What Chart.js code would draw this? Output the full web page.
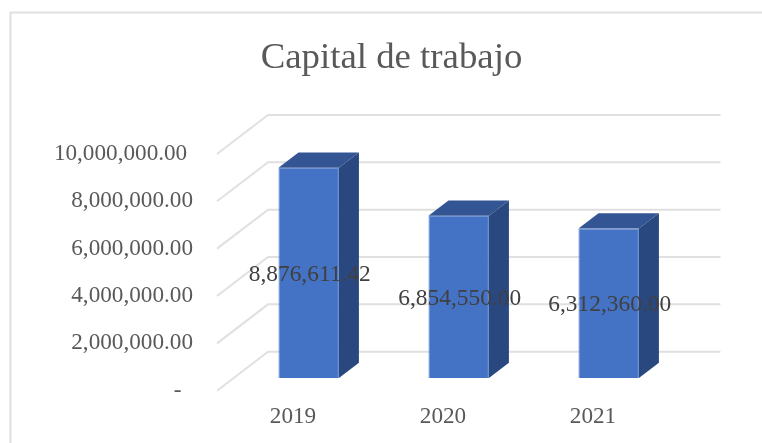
<!DOCTYPE html>
<html>
<head>
<meta charset="utf-8">
<style>
html,body{margin:0;padding:0;background:#fff;}
#wrap{position:relative;width:762px;height:443px;}
canvas{display:block;}
</style>
<script src="https://cdn.jsdelivr.net/npm/chart.js@4"></script>
</head>
<body>
<div id="wrap"><canvas id="c" width="762" height="443"></canvas></div>
<script>
const categories = ["2019", "2020", "2021"];
const capitalValues = [8876611.42, 6854550.00, 6312360.00];
const chartTitle = "Capital de trabajo";

const FONT = "'Liberation Serif'";
const fmt = v => v.toLocaleString("en-US", {minimumFractionDigits: 2, maximumFractionDigits: 2});
const tickText = v => v === 0 ? "-\u00A0\u00A0" : (v >= 10000000 ? fmt(v) + "\u00A0" : fmt(v));

const wall = {dx: 51, dy: -39, rightEnd: 720.5};
const barShift = {dx: 15.7, dy: -12.7};
const depth = {dx: 20, dy: -15.3};

const frame3d = {
  id: "frame3d",
  beforeDraw(chart) {
    const c = chart.ctx;
    c.save();
    c.strokeStyle = "#e0e0e0";
    c.lineWidth = 2;
    c.beginPath();
    c.moveTo(10.5, 443);
    c.lineTo(10.5, 12.5);
    c.lineTo(762, 12.5);
    c.stroke();
    c.restore();
  },
  beforeDatasetsDraw(chart) {
    const c = chart.ctx, y = chart.scales.y, left = chart.chartArea.left - 1;
    c.save();
    c.strokeStyle = "#e0e0e0";
    c.lineWidth = 2;
    y.ticks.forEach(t => {
      const py = y.getPixelForValue(t.value);
      c.beginPath();
      c.moveTo(left, py);
      c.lineTo(left + wall.dx, py + wall.dy);
      c.lineTo(wall.rightEnd, py + wall.dy);
      c.stroke();
    });
    c.restore();
    c.save();
    c.translate(barShift.dx, barShift.dy);
    chart.getDatasetMeta(0).data.forEach(b => {
      const p = b.getProps(["x", "y", "base", "width"], true);
      const l = p.x - p.width / 2, r = p.x + p.width / 2;
      c.fillStyle = "#335593";
      c.beginPath();
      c.moveTo(l, p.y);
      c.lineTo(l + depth.dx, p.y + depth.dy);
      c.lineTo(r + depth.dx, p.y + depth.dy);
      c.lineTo(r, p.y);
      c.closePath();
      c.fill();
      c.fillStyle = "#2a4880";
      c.beginPath();
      c.moveTo(r, p.y);
      c.lineTo(r + depth.dx, p.y + depth.dy);
      c.lineTo(r + depth.dx, p.base + depth.dy);
      c.lineTo(r, p.base);
      c.closePath();
      c.fill();
    });
  },
  afterDatasetsDraw(chart) {
    const c = chart.ctx;
    c.restore();
    c.save();
    c.font = "23.4px " + FONT;
    c.fillStyle = "#404040";
    c.textAlign = "center";
    c.textBaseline = "middle";
    chart.getDatasetMeta(0).data.forEach((b, i) => {
      const p = b.getProps(["x", "y", "base"], true);
      c.fillText(fmt(capitalValues[i]), p.x + barShift.dx + 1, (p.y + p.base) / 2 + barShift.dy + 2);
    });
    c.restore();
  }
};

new Chart(document.getElementById("c"), {
  type: "bar",
  plugins: [frame3d],
  data: {
    labels: categories,
    datasets: [{
      data: capitalValues,
      backgroundColor: "#4472c4",
      borderColor: "#5580cb",
      borderWidth: 1,
      categoryPercentage: 1,
      barPercentage: 0.403,
      clip: false
    }]
  },
  options: {
    responsive: false,
    animation: false,
    layout: {padding: {left: 21, right: 0, top: 0, bottom: 0}},
    plugins: {
      legend: {display: false},
      tooltip: {enabled: false},
      title: {
        display: true,
        text: chartTitle,
        color: "#595959",
        font: {family: FONT, size: 36.8, weight: "normal", lineHeight: 1.2},
        padding: {top: 36, bottom: 73.8}
      }
    },
    scales: {
      x: {
        grid: {display: false, drawTicks: false},
        border: {display: false},
        ticks: {color: "#595959", font: {family: FONT, size: 23.2}, padding: 12, maxRotation: 0},
        afterFit(s) { s.height = 52.3; }
      },
      y: {
        min: 0,
        max: 10000000,
        grid: {display: false, drawTicks: false},
        border: {display: false},
        ticks: {
          stepSize: 2000000,
          color: "#595959",
          font: {family: FONT, size: 23.2},
          padding: 25,
          callback: v => tickText(v)
        },
        afterFit(s) { s.width = 197; }
      },
      rightGutter: {
        position: "right",
        min: 0,
        max: 10000000,
        grid: {display: false, drawTicks: false},
        border: {display: false},
        ticks: {display: false},
        afterFit(s) { s.width = 94; }
      }
    }
  }
});
</script>
</body>
</html>
